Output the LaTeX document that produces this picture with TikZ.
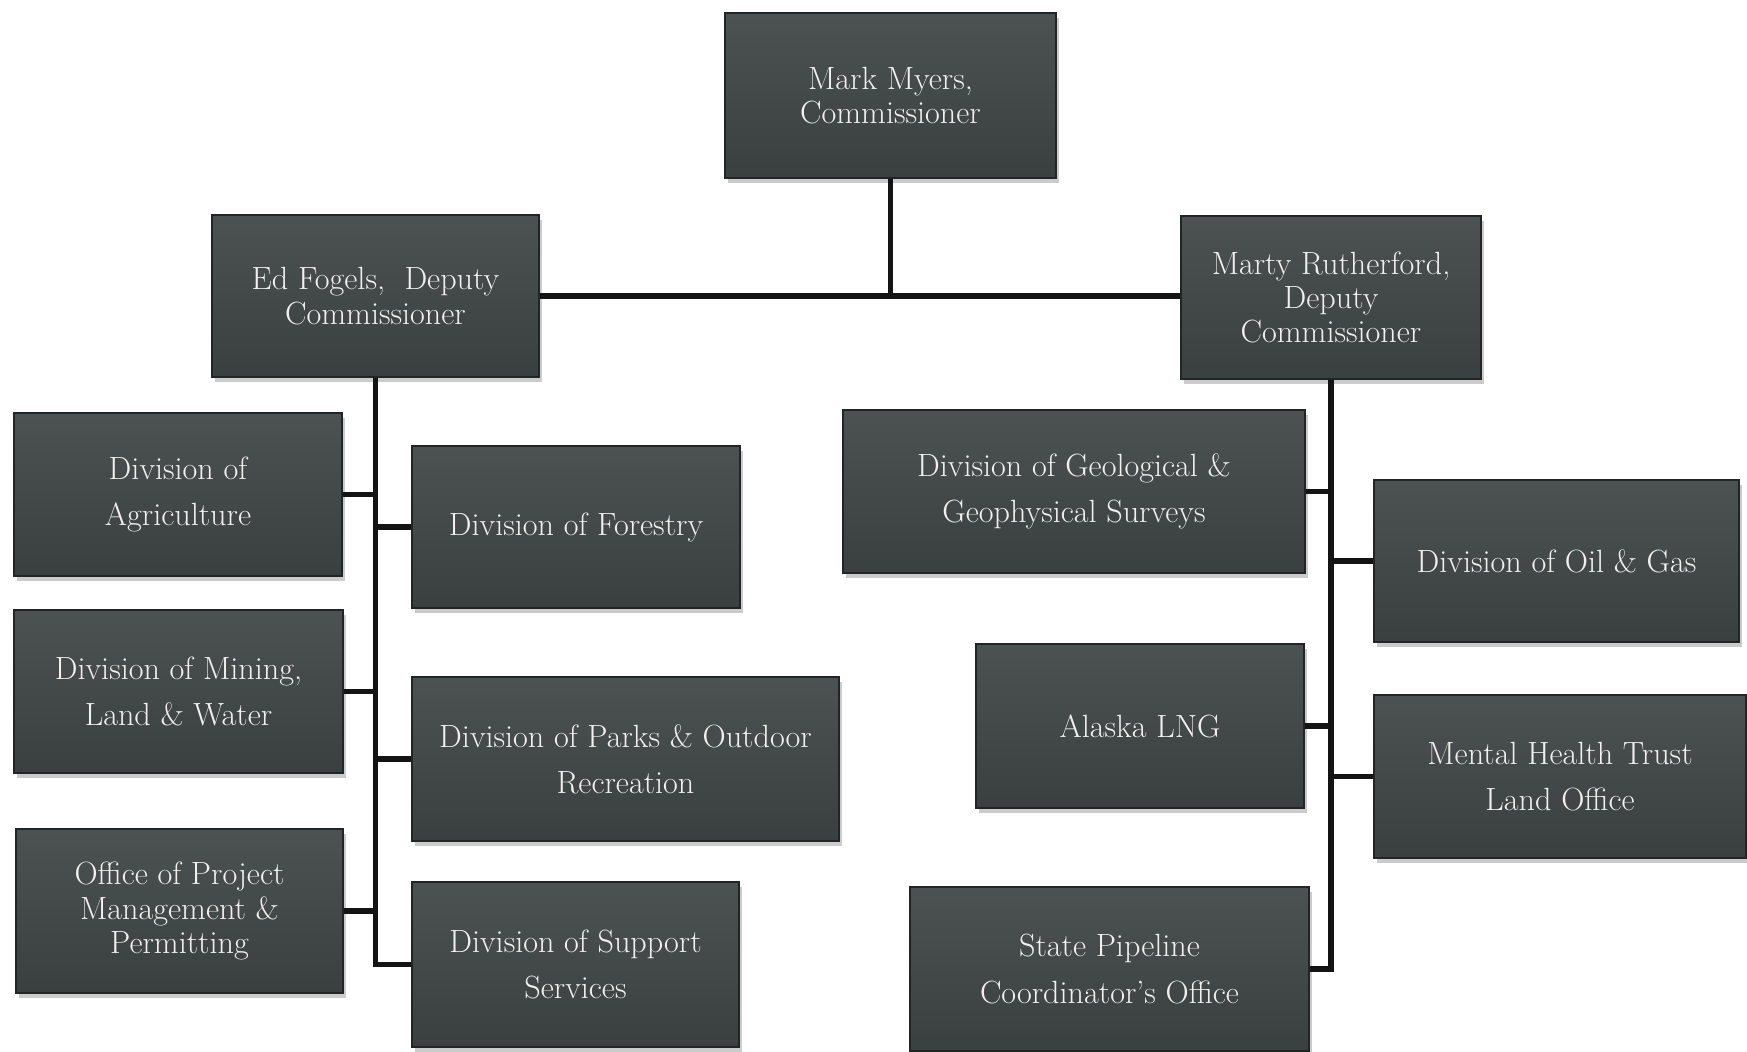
\documentclass[tikz,border=0pt]{standalone}
\usetikzlibrary{positioning,shadows}
\usepackage{xcolor}
\definecolor{boxtop}{RGB}{76,82,81}
\definecolor{boxbot}{RGB}{58,64,63}
\definecolor{boxline}{RGB}{34,37,37}
\definecolor{boxtext}{RGB}{240,240,238}

\begin{document}
\begin{tikzpicture}[
				x=0.02cm,y=-0.02cm,
				box/.style={draw=boxline,line width=0.8pt,rectangle,top color=boxtop,bottom color=boxbot,
					minimum height=3.26cm,inner sep=0pt,align=center,text=boxtext,
					drop shadow={shadow xshift=1.5pt,shadow yshift=-3pt,fill=black!45,opacity=0.45}},
				tight/.style={font=\fontsize{18.3}{19.6}\selectfont},
				loose/.style={font=\fontsize{18.3}{26.2}\selectfont},
				link/.style={line width=3pt,black!92,line join=miter}
				]
				\useasboundingbox (0,0) rectangle (1747,1051);
				
				% Leitung
				\node[box,tight,minimum width=6.62cm,minimum height=3.3cm] (mm) at (890.5,95.5) {Mark Myers,\\Commissioner};
				\node[box,tight,minimum width=6.54cm,minimum height=3.24cm] (ef) at (375.5,296) {Ed Fogels,~ Deputy\\Commissioner};
				\node[box,tight,minimum width=6.00cm] (mr) at (1331,297.5) {Marty Rutherford,\\Deputy\\Commissioner};
				
				% linke Seite
				\node[box,loose,minimum width=6.56cm] (agr) at (178,494.5) {Division of\\Agriculture};
				\node[box,loose,minimum width=6.56cm,minimum height=3.24cm] (for) at (576,527) {Division of Forestry};
				\node[box,loose,minimum width=6.58cm] (min) at (178.5,691.5) {Division of Mining,\\Land \& Water};
				\node[box,loose,minimum width=8.54cm,minimum height=3.28cm] (prk) at (625.5,759) {Division of Parks \& Outdoor\\Recreation};
				\node[box,tight,minimum width=6.54cm,minimum height=3.28cm] (opm) at (179.5,911) {Office of Project\\Management \&\\Permitting};
				\node[box,loose,minimum width=6.54cm,minimum height=3.3cm] (sup) at (575.5,964.5) {Division of Support\\Services};
				
				% rechte Seite
				\node[box,loose,minimum width=9.24cm] (geo) at (1074,491.5) {Division of Geological \&\\Geophysical Surveys};
				\node[box,loose,minimum width=7.30cm,minimum height=3.24cm] (oil) at (1556.5,561) {Division of Oil \& Gas};
				\node[box,loose,minimum width=6.56cm,minimum height=3.28cm] (lng) at (1140,726) {Alaska LNG};
				\node[box,loose,minimum width=7.44cm] (mht) at (1560,776.5) {Mental Health Trust\\Land Office};
				\node[box,loose,minimum width=7.98cm,minimum height=3.28cm] (spc) at (1109.5,969) {State Pipeline\\Coordinator's Office};
				
				% Verbindungen oben
				\draw[link] (mm.south) -- (mm.south |- ef.east);
				\draw[link] (ef.east) -- (ef.east -| mr.west);
				
				% Verbindungen links
				\draw[link] (ef.south) -- (ef.south |- sup.west) -- (sup.west);
				\draw[link] (agr.east) -- (agr.east -| ef.south);
				\draw[link] (min.east) -- (min.east -| ef.south);
				\draw[link] (opm.east) -- (opm.east -| ef.south);
				\draw[link] (for.west) -- (for.west -| ef.south);
				\draw[link] (prk.west) -- (prk.west -| ef.south);
				
				% Verbindungen rechts
				\draw[link] (mr.south) -- (mr.south |- spc.east) -- (spc.east);
				\draw[link] (geo.east) -- (geo.east -| mr.south);
				\draw[link] (lng.east) -- (lng.east -| mr.south);
				\draw[link] (oil.west) -- (oil.west -| mr.south);
				\draw[link] (mht.west) -- (mht.west -| mr.south);
				
\end{tikzpicture}
\end{document}
